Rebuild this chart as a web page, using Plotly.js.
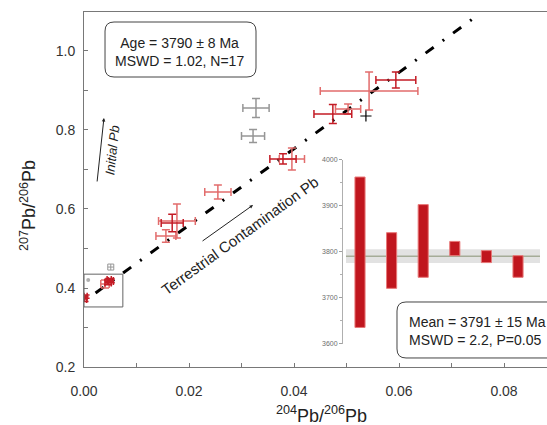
<!DOCTYPE html>
<html>
<head>
<meta charset="utf-8">
<script src="https://cdn.plot.ly/plotly-3.0.1.min.js"></script>
<style>html,body{margin:0;padding:0;background:#fff;}#chart{width:547px;height:425px;}</style>
</head>
<body>
<div id="chart"></div>
<script>
// ---- Data ----
// dark red analyses: 204Pb/206Pb, 207Pb/206Pb and their errors
var darkX   = [0.0594, 0.0474, 0.0379, 0.0168, 0.0046, 0.0051, 0.0048, 0.0001, 0.0003];
var darkY   = [0.9266, 0.8405, 0.7266, 0.5646, 0.414, 0.418, 0.420, 0.372, 0.378];
var darkXe  = [0.0038, 0.0036, 0.0025, 0.0021, 0.0006, 0.0005, 0.0004, 0.0004, 0.0003];
var darkYe  = [0.020, 0.024, 0.013, 0.022, 0.006, 0.005, 0.004, 0.006, 0.004];
// light red analyses
var lightX  = [0.0543, 0.0503, 0.0396, 0.0255, 0.0177, 0.0156, 0.0040];
var lightY  = [0.8987, 0.853, 0.7266, 0.643, 0.5696, 0.5316, 0.410];
var lightXe = [0.0093, 0.0024, 0.0024, 0.0025, 0.0035, 0.0019, 0.0008];
var lightYe = [0.048, 0.0127, 0.028, 0.018, 0.043, 0.016, 0.010];
// grey (excluded) analyses
var greyX   = [0.03276, 0.0322];
var greyY   = [0.8557, 0.7848];
var greyXe  = [0.0025, 0.0022];
var greyYe  = [0.024, 0.0165];
var greySmallX = [0.0008];
var greySmallY = [0.420];
var greySqX = [0.0051];
var greySqY = [0.453];
var plusX = [0.0537];
var plusY = [0.8354];
// isochron line end points
var lineX = [0.0022, 0.0742];
var lineY = [0.3873, 1.0828];
// inset: weighted mean ages (Ma)
var insetCat  = [1, 2, 3, 4, 5, 6];
var insetLow  = [3636, 3721, 3745, 3792, 3777, 3745];
var insetHigh = [3963, 3842, 3903, 3823, 3803, 3792];
var meanAge = 3791, meanErr = 15;
var xTicks = [0, 0.02, 0.04, 0.06, 0.08];
var xTickText = ['0.00', '0.02', '0.04', '0.06', '0.08'];
var yTicks = [0.2, 0.4, 0.6, 0.8, 1.0];
var yTickText = ['0.2', '0.4', '0.6', '0.8', '1.0'];
var insetTicks = [3600, 3700, 3800, 3900, 4000];
var insetTickText = ['3600', '3700', '3800', '3900', '4000'];

// ---- Styles ----
var FONT = 'Liberation Sans, Arial, Helvetica, sans-serif';
var DARK = 'rgb(196,28,38)';
var LIGHT = 'rgb(226,108,108)';
var GREY = 'rgb(150,150,150)';
var AX = 'rgb(120,120,120)';

function errTrace(x, y, xe, ye, col, w) {
  return {
    type: 'scatter', mode: 'markers', x: x, y: y,
    marker: {size: 1, color: col},
    error_x: {type: 'data', array: xe, visible: true, color: col, thickness: 1.5, width: w},
    error_y: {type: 'data', array: ye, visible: true, color: col, thickness: 1.5, width: w},
    showlegend: false, hoverinfo: 'skip'
  };
}

var traces = [
  {type: 'scatter', mode: 'lines', x: lineX, y: lineY,
   line: {color: '#000', width: 3, dash: '10px,11px,2px,11px'}, showlegend: false, hoverinfo: 'skip'},
  errTrace(greyX, greyY, greyXe, greyYe, GREY, 4),
  errTrace(lightX, lightY, lightXe, lightYe, LIGHT, 4),
  errTrace(darkX, darkY, darkXe, darkYe, DARK, 4),
  {type: 'scatter', mode: 'markers', x: greySmallX, y: greySmallY,
   marker: {symbol: 'circle', size: 4, color: 'rgb(175,175,175)'}, showlegend: false},
  {type: 'scatter', mode: 'markers', x: greySqX, y: greySqY,
   marker: {symbol: 'square-cross-open', size: 6, color: GREY, line: {width: 1, color: GREY}}, showlegend: false},
  {type: 'scatter', mode: 'markers', x: plusX, y: plusY,
   marker: {symbol: 'cross-thin-open', size: 8, color: '#000', line: {width: 1.2, color: '#000'}}, showlegend: false},
  {type: 'bar', x: insetCat, base: insetLow,
   y: insetHigh.map(function (h, i) { return h - insetLow[i]; }),
   width: 0.32, xaxis: 'x2', yaxis: 'y2',
   marker: {color: 'rgb(192,22,30)', line: {color: 'rgb(232,120,120)', width: 1}},
   showlegend: false, hoverinfo: 'skip'}
];

// rounded rectangle path in paper coordinates (pixel radius converted)
var PW = 463, PH = 355;
function roundRect(x0, y0, x1, y1, r) {
  var rx = r / PW, ry = r / PH;
  return 'M' + (x0 + rx) + ',' + y1 +
    ' L' + (x1 - rx) + ',' + y1 + ' Q' + x1 + ',' + y1 + ' ' + x1 + ',' + (y1 - ry) +
    ' L' + x1 + ',' + (y0 + ry) + ' Q' + x1 + ',' + y0 + ' ' + (x1 - rx) + ',' + y0 +
    ' L' + (x0 + rx) + ',' + y0 + ' Q' + x0 + ',' + y0 + ' ' + x0 + ',' + (y0 + ry) +
    ' L' + x0 + ',' + (y1 - ry) + ' Q' + x0 + ',' + y1 + ' ' + (x0 + rx) + ',' + y1 + ' Z';
}

var layout = {
  width: 547, height: 425,
  margin: {l: 84, r: 0, t: 12, b: 58},
  paper_bgcolor: '#fff', plot_bgcolor: 'rgba(0,0,0,0)',
  font: {family: FONT, color: '#333', size: 14},
  showlegend: false,
  xaxis: {
    range: [0, 0.08819], showgrid: false, zeroline: false,
    showline: true, linecolor: AX, linewidth: 1, mirror: true,
    ticks: 'inside', ticklen: 4, tickcolor: AX,
    tickvals: xTicks, ticktext: xTickText, ticklabelstandoff: 11,
    minor: {dtick: 0.01, ticks: 'inside', ticklen: 4, tickcolor: AX},
    tickfont: {size: 14, color: '#333'}
  },
  yaxis: {
    range: [0.2, 1.0987], showgrid: false, zeroline: false,
    showline: true, linecolor: AX, linewidth: 1, mirror: false,
    ticks: 'inside', ticklen: 4, tickcolor: AX,
    tickvals: yTicks, ticktext: yTickText, ticklabelstandoff: 5,
    minor: {dtick: 0.1, ticks: 'inside', ticklen: 4, tickcolor: AX},
    tickfont: {size: 14, color: '#333'}
  },
  xaxis2: {
    domain: [0.5594, 0.9849], anchor: 'y2', range: [0.462, 6.696],
    showgrid: false, zeroline: false, showline: false, showticklabels: false, ticks: ''
  },
  yaxis2: {
    domain: [0.0648, 0.5831], anchor: 'x2', range: [3600, 4000],
    showgrid: false, zeroline: false, showline: true, linecolor: 'rgb(175,175,175)', linewidth: 1,
    ticks: 'outside', ticklen: 3, tickcolor: 'rgb(160,160,160)',
    tickvals: insetTicks, ticktext: insetTickText,
    minor: {dtick: 50, ticks: 'outside', ticklen: 2, tickcolor: 'rgb(175,175,175)'},
    tickfont: {size: 7, color: 'rgb(110,110,110)'}
  },
  shapes: [
    // mean band and line on inset
    {type: 'rect', xref: 'x2', yref: 'y2', x0: 0.557, x1: 6.696,
     y0: meanAge - meanErr, y1: meanAge + meanErr,
     fillcolor: 'rgb(226,226,226)', line: {width: 0}, layer: 'below'},
    {type: 'line', xref: 'x2', yref: 'y2', x0: 0.557, x1: 6.696, y0: meanAge, y1: meanAge,
     line: {color: 'rgb(165,172,152)', width: 1.5}, layer: 'below'},
    // zoom box near origin
    {type: 'rect', xref: 'x', yref: 'y', x0: 0, x1: 0.0074, y0: 0.352, y1: 0.435,
     line: {color: 'rgb(100,100,100)', width: 1}},
    // rounded text boxes
    {type: 'path', xref: 'paper', yref: 'paper', path: roundRect(0.0454, 0.8169, 0.3715, 0.9718, 9),
     line: {color: '#444', width: 1}, fillcolor: 'rgba(255,255,255,0)'},
    {type: 'path', xref: 'paper', yref: 'paper', path: roundRect(0.676, 0.0254, 1.06, 0.1831, 9),
     line: {color: '#444', width: 1}, fillcolor: 'rgba(255,255,255,1)'}
  ],
  annotations: [
    {xref: 'paper', yref: 'paper', x: 0.2073, y: 0.886, xanchor: 'center', yanchor: 'middle',
     text: 'Age = 3790 ± 8 Ma<br>MSWD = 1.02, N=17', showarrow: false,
     font: {size: 14, color: '#222'}, align: 'center'},
    {xref: 'paper', yref: 'paper', x: 0.6976, y: 0.1014, xanchor: 'left', yanchor: 'middle',
     text: 'Mean = 3791 ± 15 Ma<br>MSWD = 2.2, P=0.05', showarrow: false,
     font: {size: 14, color: '#222'}, align: 'left'},
    // axis titles
    {xref: 'paper', yref: 'paper', x: 0.512, y: -0.135, xanchor: 'center', yanchor: 'middle',
     text: '<sup>204</sup>Pb/<sup>206</sup>Pb', showarrow: false, font: {size: 18, color: '#222'}},
    {xref: 'paper', yref: 'paper', x: -0.121, y: 0.456, xanchor: 'center', yanchor: 'middle',
     text: '<sup>207</sup>Pb/<sup>206</sup>Pb', textangle: -90, showarrow: false, font: {size: 18, color: '#222'}},
    // arrows
    {xref: 'x', yref: 'y', x: 0.0038, y: 0.8304, ax: -7, ay: 65, text: '', showarrow: true,
     arrowhead: 2, arrowsize: 0.7, arrowwidth: 1, arrowcolor: '#222'},
    {xref: 'x', yref: 'y', x: 0.00533, y: 0.749, text: '<i>Initial Pb</i>', showarrow: false,
     textangle: -84, font: {size: 13, color: '#222'}},
    {xref: 'x', yref: 'y', x: 0.0322, y: 0.610, ax: -52, ay: 37, text: '', showarrow: true,
     arrowhead: 2, arrowsize: 0.7, arrowwidth: 1, arrowcolor: '#222'},
    {xref: 'x', yref: 'y', x: 0.0297, y: 0.534, text: 'Terrestrial Contamination Pb', showarrow: false,
     textangle: -36, font: {size: 15, color: '#222'}}
  ]
};

Plotly.newPlot('chart', traces, layout, {staticPlot: true, displayModeBar: false});
</script>
</body>
</html>
